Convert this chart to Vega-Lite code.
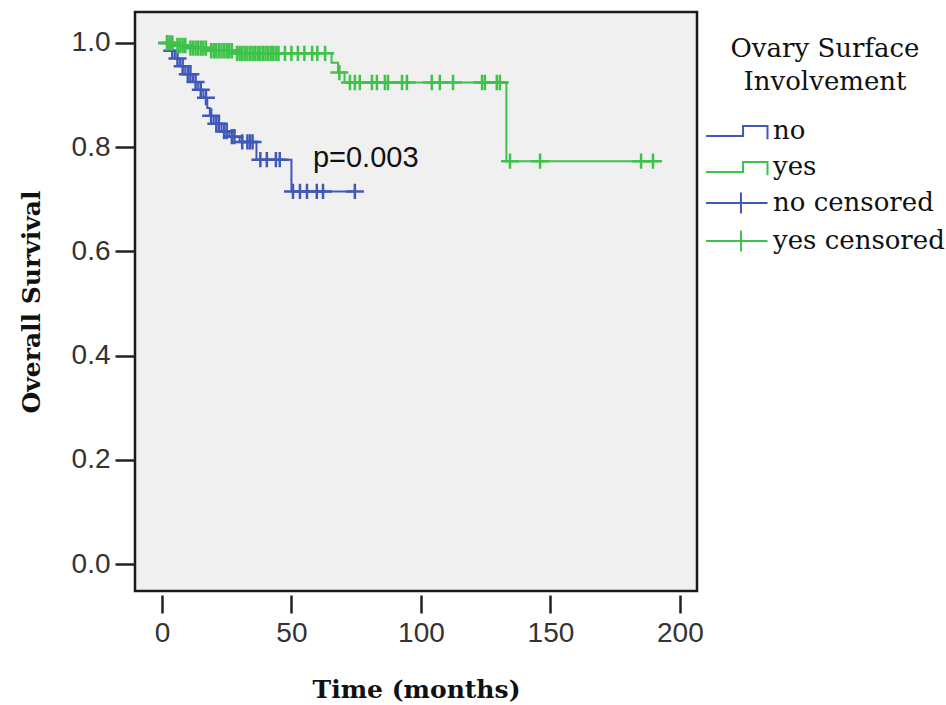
{
  "$schema": "https://vega.github.io/schema/vega-lite/v6.json",
  "width": 562,
  "height": 579,
  "autosize": {"type": "none"},
  "padding": {"left": 135, "top": 12, "right": 249, "bottom": 114},
  "background": "white",
  "config": {
    "view": {"fill": "#f0f0f0", "stroke": "#1a1a1a", "strokeWidth": 2.5},
    "axis": {"grid": false, "domain": false, "tickColor": "#222", "tickWidth": 2.5, "labelColor": "#333", "labelFont": "Liberation Sans", "labelFontSize": 28, "titleFont": "DejaVu Serif", "titleFontWeight": "bold", "titleFontSize": 25, "titleColor": "#111"}
  },
  "datasets": {
    "curve": [
      {"group": "no", "t": 0, "S": 1.0},
      {"group": "no", "t": 3, "S": 0.985},
      {"group": "no", "t": 5, "S": 0.97},
      {"group": "no", "t": 7, "S": 0.955},
      {"group": "no", "t": 9, "S": 0.94},
      {"group": "no", "t": 12, "S": 0.925},
      {"group": "no", "t": 14, "S": 0.91},
      {"group": "no", "t": 16, "S": 0.895},
      {"group": "no", "t": 17.5, "S": 0.875},
      {"group": "no", "t": 18.5, "S": 0.86},
      {"group": "no", "t": 20, "S": 0.845},
      {"group": "no", "t": 23, "S": 0.83},
      {"group": "no", "t": 26, "S": 0.82},
      {"group": "no", "t": 30, "S": 0.81},
      {"group": "no", "t": 36.5, "S": 0.776},
      {"group": "no", "t": 50, "S": 0.715},
      {"group": "no", "t": 74.5, "S": 0.715},
      {"group": "yes", "t": 0, "S": 1.0},
      {"group": "yes", "t": 5, "S": 0.995},
      {"group": "yes", "t": 10, "S": 0.99},
      {"group": "yes", "t": 18, "S": 0.985},
      {"group": "yes", "t": 28, "S": 0.98},
      {"group": "yes", "t": 65.5, "S": 0.962},
      {"group": "yes", "t": 68, "S": 0.943},
      {"group": "yes", "t": 70.5, "S": 0.924},
      {"group": "yes", "t": 133, "S": 0.773},
      {"group": "yes", "t": 189.6, "S": 0.773}
    ],
    "cens": [
      {"label": "no censored", "t": 2, "S": 1.0},
      {"label": "no censored", "t": 4, "S": 0.985},
      {"label": "no censored", "t": 6, "S": 0.97},
      {"label": "no censored", "t": 8, "S": 0.955},
      {"label": "no censored", "t": 10, "S": 0.94},
      {"label": "no censored", "t": 11, "S": 0.94},
      {"label": "no censored", "t": 13, "S": 0.925},
      {"label": "no censored", "t": 15, "S": 0.91},
      {"label": "no censored", "t": 17, "S": 0.895},
      {"label": "no censored", "t": 19, "S": 0.86},
      {"label": "no censored", "t": 21, "S": 0.845},
      {"label": "no censored", "t": 22, "S": 0.845},
      {"label": "no censored", "t": 24, "S": 0.83},
      {"label": "no censored", "t": 25, "S": 0.83},
      {"label": "no censored", "t": 27, "S": 0.82},
      {"label": "no censored", "t": 28, "S": 0.82},
      {"label": "no censored", "t": 31, "S": 0.81},
      {"label": "no censored", "t": 33, "S": 0.81},
      {"label": "no censored", "t": 34, "S": 0.81},
      {"label": "no censored", "t": 35, "S": 0.81},
      {"label": "no censored", "t": 38, "S": 0.776},
      {"label": "no censored", "t": 40.5, "S": 0.776},
      {"label": "no censored", "t": 44, "S": 0.776},
      {"label": "no censored", "t": 45.5, "S": 0.776},
      {"label": "no censored", "t": 50.6, "S": 0.715},
      {"label": "no censored", "t": 53.3, "S": 0.715},
      {"label": "no censored", "t": 56, "S": 0.715},
      {"label": "no censored", "t": 59.8, "S": 0.715},
      {"label": "no censored", "t": 62.2, "S": 0.715},
      {"label": "no censored", "t": 74.5, "S": 0.715},
      {"label": "yes censored", "t": 2, "S": 1.0},
      {"label": "yes censored", "t": 3, "S": 1.0},
      {"label": "yes censored", "t": 4, "S": 1.0},
      {"label": "yes censored", "t": 6, "S": 0.995},
      {"label": "yes censored", "t": 7, "S": 0.995},
      {"label": "yes censored", "t": 8, "S": 0.995},
      {"label": "yes censored", "t": 9, "S": 0.995},
      {"label": "yes censored", "t": 11, "S": 0.99},
      {"label": "yes censored", "t": 12, "S": 0.99},
      {"label": "yes censored", "t": 13, "S": 0.99},
      {"label": "yes censored", "t": 14, "S": 0.99},
      {"label": "yes censored", "t": 15, "S": 0.99},
      {"label": "yes censored", "t": 16, "S": 0.99},
      {"label": "yes censored", "t": 17, "S": 0.99},
      {"label": "yes censored", "t": 19, "S": 0.985},
      {"label": "yes censored", "t": 20, "S": 0.985},
      {"label": "yes censored", "t": 21, "S": 0.985},
      {"label": "yes censored", "t": 22, "S": 0.985},
      {"label": "yes censored", "t": 23, "S": 0.985},
      {"label": "yes censored", "t": 24, "S": 0.985},
      {"label": "yes censored", "t": 25, "S": 0.985},
      {"label": "yes censored", "t": 26, "S": 0.985},
      {"label": "yes censored", "t": 27, "S": 0.985},
      {"label": "yes censored", "t": 29, "S": 0.98},
      {"label": "yes censored", "t": 30, "S": 0.98},
      {"label": "yes censored", "t": 31, "S": 0.98},
      {"label": "yes censored", "t": 32, "S": 0.98},
      {"label": "yes censored", "t": 33, "S": 0.98},
      {"label": "yes censored", "t": 34, "S": 0.98},
      {"label": "yes censored", "t": 35, "S": 0.98},
      {"label": "yes censored", "t": 36, "S": 0.98},
      {"label": "yes censored", "t": 37, "S": 0.98},
      {"label": "yes censored", "t": 38, "S": 0.98},
      {"label": "yes censored", "t": 39, "S": 0.98},
      {"label": "yes censored", "t": 40, "S": 0.98},
      {"label": "yes censored", "t": 41, "S": 0.98},
      {"label": "yes censored", "t": 42, "S": 0.98},
      {"label": "yes censored", "t": 43, "S": 0.98},
      {"label": "yes censored", "t": 44, "S": 0.98},
      {"label": "yes censored", "t": 45, "S": 0.98},
      {"label": "yes censored", "t": 47.5, "S": 0.98},
      {"label": "yes censored", "t": 50, "S": 0.98},
      {"label": "yes censored", "t": 52.5, "S": 0.98},
      {"label": "yes censored", "t": 55, "S": 0.98},
      {"label": "yes censored", "t": 58, "S": 0.98},
      {"label": "yes censored", "t": 60, "S": 0.98},
      {"label": "yes censored", "t": 63, "S": 0.98},
      {"label": "yes censored", "t": 68.5, "S": 0.943},
      {"label": "yes censored", "t": 72.6, "S": 0.924},
      {"label": "yes censored", "t": 74.5, "S": 0.924},
      {"label": "yes censored", "t": 76.4, "S": 0.924},
      {"label": "yes censored", "t": 81.1, "S": 0.924},
      {"label": "yes censored", "t": 83, "S": 0.924},
      {"label": "yes censored", "t": 86.1, "S": 0.924},
      {"label": "yes censored", "t": 87.3, "S": 0.924},
      {"label": "yes censored", "t": 92.7, "S": 0.924},
      {"label": "yes censored", "t": 94.6, "S": 0.924},
      {"label": "yes censored", "t": 104.2, "S": 0.924},
      {"label": "yes censored", "t": 107.3, "S": 0.924},
      {"label": "yes censored", "t": 112.4, "S": 0.924},
      {"label": "yes censored", "t": 123.6, "S": 0.924},
      {"label": "yes censored", "t": 124.7, "S": 0.924},
      {"label": "yes censored", "t": 129.3, "S": 0.924},
      {"label": "yes censored", "t": 130.5, "S": 0.924},
      {"label": "yes censored", "t": 134.4, "S": 0.773},
      {"label": "yes censored", "t": 146, "S": 0.773},
      {"label": "yes censored", "t": 185, "S": 0.773},
      {"label": "yes censored", "t": 189.6, "S": 0.773}
    ],
    "annot": [
      {"t": 58.3, "S": 0.78, "text": "p=0.003"}
    ]
  },
  "layer": [
    {
      "data": {"name": "curve"},
      "mark": {"type": "line", "interpolate": "step-after", "strokeWidth": 2},
      "encoding": {
        "x": {"field": "t", "type": "quantitative",
          "scale": {"domain": [-10.4, 206.6], "nice": false, "zero": false},
          "axis": {"values": [0, 50, 100, 150, 200], "title": "Time (months)", "offset": 4, "tickSize": 18, "labelPadding": 6, "titlePadding": 30, "labelFlush": false}},
        "y": {"field": "S", "type": "quantitative",
          "scale": {"domain": [-0.0516, 1.0593], "nice": false, "zero": false},
          "axis": {"values": [0, 0.2, 0.4, 0.6, 0.8, 1.0], "format": ".1f", "title": "Overall Survival", "tickSize": 20, "labelPadding": 5, "titlePadding": 27, "labelFlush": false}},
        "color": {"field": "group", "type": "nominal",
          "scale": {"domain": ["no", "yes", "no censored", "yes censored"], "range": ["#3f58ba", "#3ec24a", "#3f58ba", "#3ec24a"]},
          "legend": {
            "title": ["Ovary Surface", "Involvement"],
            "orient": "none", "legendX": 570, "legendY": 24,
            "padding": 0,
            "titleFont": "DejaVu Serif", "titleFontWeight": "normal", "titleFontSize": 26, "titleColor": "#111",
            "titleAnchor": "middle", "titleAlign": "center", "titleLineHeight": 33, "titlePadding": 20, "titleLimit": 400,
            "labelFont": "DejaVu Serif", "labelFontSize": 26, "labelColor": "#111", "labelOffset": 36, "labelLimit": 400,
            "labelExpr": "datum.label == 'no censored' ? '\u2002no censored' : datum.label",
            "symbolSize": 900, "rowPadding": 7, "symbolStrokeWidth": 2,
            "encode": {
              "symbols": {"update": {
                "shape": {"signal": "(datum.value == 'no' || datum.value == 'yes') ? 'M-1,0.33H1.47V-0.33H3.1V0.55' : 'M-1,0H3.1M1.33,-0.7V0.7'"},
                "stroke": {"signal": "(datum.value == 'no' || datum.value == 'no censored') ? '#3f58ba' : '#3ec24a'"},
                "fill": {"value": "transparent"},
                "strokeWidth": {"value": 2},
                "strokeDash": {"value": []},
                "opacity": {"value": 1}
              }}
            }
          }
        }
      }
    },
    {
      "data": {"name": "cens"},
      "mark": {"type": "point", "shape": "M-1,0H1M0,-0.85V0.85", "filled": false, "size": 324, "strokeWidth": 2.5, "opacity": 1},
      "encoding": {
        "x": {"field": "t", "type": "quantitative"},
        "y": {"field": "S", "type": "quantitative"},
        "color": {"field": "label", "type": "nominal"}
      }
    },
    {
      "data": {"name": "annot"},
      "mark": {"type": "text", "align": "left", "baseline": "middle", "font": "Liberation Sans", "fontSize": 29, "color": "#111"},
      "encoding": {
        "x": {"field": "t", "type": "quantitative"},
        "y": {"field": "S", "type": "quantitative"},
        "text": {"field": "text"}
      }
    }
  ]
}
